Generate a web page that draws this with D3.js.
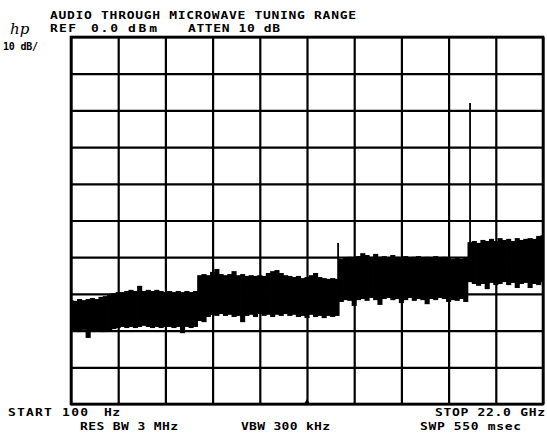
<!DOCTYPE html>
<html><head><meta charset="utf-8">
<script src="https://cdnjs.cloudflare.com/ajax/libs/d3/7.8.5/d3.min.js"></script>
<style>
html,body{margin:0;padding:0;background:#fff;}
svg{display:block;}
text{font-family:"DejaVu Sans Mono",monospace;fill:#000;}
</style></head>
<body>
<script>
// ---- data ----
const freqGHz = [0.0,0.2,0.4,0.6,0.8,1.0,1.2,1.4,1.6,1.8,2.0,2.2,2.4,2.6,2.8,3.0,3.2,3.4,3.6,3.8,4.0,4.2,4.4,4.6,4.8,5.0,5.2,5.4,5.6,5.8,
  6.0,6.2,6.4,6.6,6.8,7.0,7.2,7.4,7.6,7.8,8.0,8.2,8.4,8.6,8.8,9.0,9.2,9.4,9.6,9.8,10.0,10.2,10.4,10.6,10.8,11.0,11.2,11.4,11.6,11.8,12.0,12.2,12.4,
  12.6,12.8,13.0,13.2,13.4,13.6,13.8,14.0,14.2,14.4,14.6,14.8,15.0,15.2,15.4,15.6,15.8,16.0,16.2,16.4,16.6,16.8,17.0,17.2,17.4,17.6,17.8,18.0,18.2,18.4,
  18.6,18.8,19.0,19.2,19.4,19.6,19.8,20.0,20.2,20.4,20.6,20.8,21.0,21.2,21.4,21.6,21.8,22.0];
const upperDbm = [-71.7,-71.9,-71.4,-71.7,-71.4,-71.1,-71.4,-70.8,-70.6,-70.0,-69.8,-69.5,-69.5,-69.2,-68.9,-69.2,-67.8,-69.2,-68.9,-69.2,-68.9,-69.2,-69.5,-69.2,-69.5,-69.2,-69.5,-69.2,-69.5,-69.2,
  -64.9,-64.6,-64.9,-64.0,-63.2,-64.6,-64.9,-64.6,-63.8,-64.9,-64.6,-65.1,-64.9,-65.1,-64.9,-65.1,-64.3,-63.8,-63.5,-64.3,-64.9,-65.1,-65.4,-65.1,-65.7,-65.4,-64.9,-64.3,-65.4,-65.7,-65.9,-65.7,-65.9,
  -60.5,-60.2,-59.9,-60.2,-59.7,-58.9,-59.4,-59.9,-59.1,-59.9,-59.7,-60.2,-59.4,-59.9,-60.2,-59.7,-60.2,-59.9,-59.7,-60.2,-59.9,-60.2,-59.7,-60.2,-59.9,-60.2,-60.5,-60.2,-60.5,-60.2,
  -55.9,-55.6,-56.1,-55.3,-55.6,-55.0,-55.6,-54.8,-55.3,-55.0,-55.6,-54.8,-55.3,-55.0,-54.8,-55.0,-54.2,-54.0];
const lowerDbm = [-79.8,-80.1,-80.4,-79.8,-82.0,-80.4,-80.1,-80.4,-80.4,-80.1,-79.6,-79.3,-79.0,-79.3,-79.0,-79.3,-79.0,-78.7,-79.0,-79.3,-79.0,-79.3,-79.0,-79.0,-79.3,-79.0,-80.7,-79.0,-79.3,-79.0,
  -77.4,-77.7,-76.3,-75.7,-76.0,-75.5,-76.0,-75.7,-76.3,-76.0,-77.7,-76.0,-75.7,-76.3,-75.5,-76.0,-75.7,-76.3,-75.7,-76.0,-75.5,-76.0,-75.7,-76.3,-76.0,-76.6,-75.7,-76.3,-76.0,-76.6,-76.0,-76.3,-76.0,
  -72.2,-71.7,-71.9,-73.3,-71.7,-71.4,-71.9,-71.1,-71.7,-73.0,-71.4,-71.1,-71.7,-71.4,-72.5,-71.7,-71.1,-71.9,-71.4,-71.7,-72.8,-71.4,-71.7,-71.1,-71.4,-72.2,-71.7,-71.9,-71.4,-72.2,
  -66.8,-67.3,-67.8,-67.3,-68.7,-67.0,-67.6,-67.3,-66.8,-67.6,-67.0,-68.4,-67.3,-67.0,-68.4,-67.3,-67.6,-66.8];
const spikeFreqGHz = [12.45, 18.6];
const spikeTopDbm = [-56.1, -18.0];
const spikeBaseDbm = [-66.0, -56.0];
const xTicksGHz = [0,2.2,4.4,6.6,8.8,11,13.2,15.4,17.6,19.8,22];
const yTicksDbm = [0,-10,-20,-30,-40,-50,-60,-70,-80,-90,-100];
const markerFreqGHz = [11];

// ---- layout ----
const W = 547, H = 434;
const L = 71, R = 543, T = 37, B = 404;
const svg = d3.select("body").append("svg").attr("width", W).attr("height", H);

const x = d3.scaleLinear().domain([0, 22]).range([L, R]);
const y = d3.scaleLinear().domain([-100, 0]).range([B, T]);

// graticule via axes
const gx = svg.append("g").attr("transform", `translate(0,${B})`)
  .call(d3.axisBottom(x).tickValues(xTicksGHz).tickSize(-(B - T)).tickFormat(""));
const gy = svg.append("g").attr("transform", `translate(${L},0)`)
  .call(d3.axisLeft(y).tickValues(yTicksDbm).tickSize(-(R - L)).tickFormat(""));
[gx, gy].forEach(g => {
  g.select(".domain").remove();
  g.selectAll(".tick text").remove();
  g.selectAll(".tick line").attr("stroke", "#000").attr("stroke-width", 2.2);
});
svg.append("rect").attr("x", x(0)).attr("y", y(0))
  .attr("width", x(22) - x(0)).attr("height", y(-100) - y(0))
  .attr("fill", "none").attr("stroke", "#000").attr("stroke-width", 2.6);

// noise band: one filled column per sample, spanning half-way to its neighbours
const rows = freqGHz.map((f, i) => ({f, hi: upperDbm[i], lo: lowerDbm[i],
  f0: i === 0 ? f : (f + freqGHz[i - 1]) / 2,
  f1: i === freqGHz.length - 1 ? f : (f + freqGHz[i + 1]) / 2}));
svg.append("g").selectAll("rect").data(rows).join("rect")
  .attr("x", d => x(d.f0) - 0.4)
  .attr("width", d => x(d.f1) - x(d.f0) + 0.8)
  .attr("y", d => y(d.hi))
  .attr("height", d => y(d.lo) - y(d.hi))
  .attr("fill", "#000");

// spikes
svg.selectAll("line.spike").data(spikeFreqGHz).join("line").attr("class", "spike")
  .attr("x1", d => x(d)).attr("x2", d => x(d))
  .attr("y1", (d, i) => y(spikeBaseDbm[i])).attr("y2", (d, i) => y(spikeTopDbm[i]))
  .attr("stroke", "#000").attr("stroke-width", 1.8);

// center marker
svg.selectAll("path.marker").data(markerFreqGHz).join("path").attr("class", "marker")
  .attr("d", d => `M${x(d) - 3},${y(-100)} L${x(d)},${y(-100) - 5} L${x(d) + 3},${y(-100)} Z`)
  .attr("fill", "#000");

// texts (stretched horizontally like the plotter lettering)
function txt(s, xx, yy, len, sx) {
  sx = sx || 1.3;
  return svg.append("text")
    .attr("transform", `translate(${xx},${yy}) scale(${sx},1)`)
    .attr("font-size", 10).attr("font-weight", "bold")
    .attr("textLength", len / sx).attr("lengthAdjust", "spacing")
    .text(s);
}
txt("AUDIO THROUGH MICROWAVE TUNING RANGE", 50, 19, 306);
txt("REF", 50, 32, 26);
txt("0.0", 91, 32, 27);
txt("dBm", 128, 32, 29);
txt("ATTEN 10 dB", 188, 32, 92);
svg.append("text").attr("x", 10).attr("y", 34).attr("font-size", 15)
  .attr("font-style", "italic").style("font-family", "'DejaVu Serif',serif").text("hp");
txt("10 dB/", 3, 50, 35, 1.0);
txt("START 100", 8, 416, 80);
txt("Hz", 104, 416, 16);
txt("STOP 22.0 GHz", 435, 416, 110);
txt("RES BW 3 MHz", 80, 430, 98);
txt("VBW 300 kHz", 241, 430, 89);
txt("SWP 550 msec", 420, 430, 101);
</script>
</body></html>
